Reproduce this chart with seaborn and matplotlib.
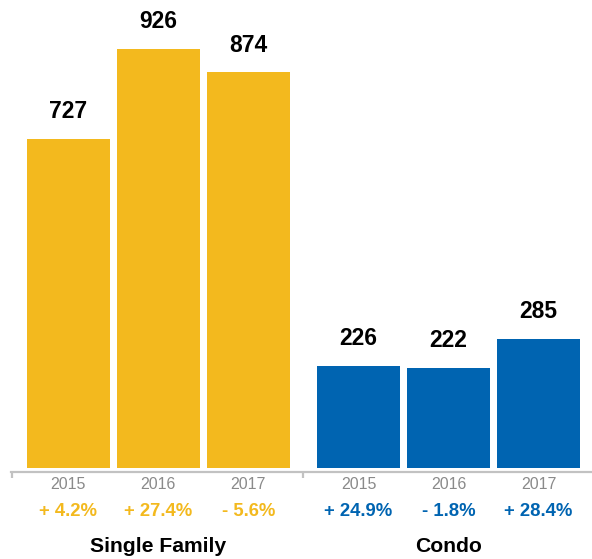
import matplotlib
matplotlib.use("Agg")
import matplotlib.pyplot as plt
import matplotlib.transforms as mtransforms
import numpy as np
import pandas as pd
import seaborn as sns

groups = ["Single Family", "Condo"]
years = ["2015", "2016", "2017"]
single_family = [727, 926, 874]
condo = [226, 222, 285]
sf_change = ["+ 4.2%", "+ 27.4%", "- 5.6%"]
condo_change = ["+ 24.9%", "- 1.8%", "+ 28.4%"]

YELLOW = "#F3B91E"
BLUE = "#0064B1"
GRAY = "#C2C2C2"

sns.set_style("white")
plt.rcParams["font.family"] = ["Liberation Sans", "DejaVu Sans"]

group_gap = 3.225
rows = []
for g, (name, vals, chg) in enumerate(zip(groups, [single_family, condo], [sf_change, condo_change])):
    for i, (yr, v, c) in enumerate(zip(years, vals, chg)):
        rows.append({"group": name, "year": yr, "value": v, "change": c,
                     "pos": g * group_gap + i})
df = pd.DataFrame(rows)

W, H = 592, 559
fig = plt.figure(figsize=(W / 100, H / 100), dpi=100)
base = 468.3
ax = fig.add_axes([11 / W, (H - base) / H, 581 / W, base / H])

sns.barplot(data=df, x="pos", y="value", hue="group", native_scale=True,
            palette={"Single Family": YELLOW, "Condo": BLUE}, width=0.925,
            linewidth=0, saturation=1, legend=False, ax=ax)

ax.set_xlim(-0.637, 5.819)
ax.set_ylim(0, 1034)
ax.set_xlabel("")
ax.set_ylabel("")
ax.set_yticks([])
for s in ["left", "right", "top"]:
    ax.spines[s].set_visible(False)
ax.spines["bottom"].set_position(("outward", 2.6))
ax.spines["bottom"].set_color(GRAY)
ax.spines["bottom"].set_linewidth(1.6)
ax.set_xticks([-0.637 + 0.01, group_gap / 2 + 1])
ax.set_xticklabels(["", ""])
ax.tick_params(axis="x", bottom=True, direction="out", length=4.5, width=1.6,
               color=GRAY, pad=0)

# value labels above bars
for _, r in df.iterrows():
    ax.annotate(str(r["value"]), (r["pos"], r["value"]), xytext=(0, 15),
                textcoords="offset points", ha="center", va="baseline",
                fontsize=16.5, fontweight="bold", color="black")

blend = mtransforms.blended_transform_factory(ax.transData, fig.transFigure)
for _, r in df.iterrows():
    col = YELLOW if r["group"] == "Single Family" else BLUE
    ax.text(r["pos"], 1 - 489.3 / H, r["year"], transform=blend, ha="center",
            va="baseline", fontsize=11.5, color="#8A8A8A")
    ax.text(r["pos"], 1 - 516 / H, r["change"], transform=blend, ha="center",
            va="baseline", fontsize=13.3, fontweight="bold", color=col)

for g, name in enumerate(groups):
    ax.text(g * group_gap + 1, 1 - 551.5 / H, name, transform=blend, ha="center",
            va="baseline", fontsize=15.2, fontweight="bold", color="black")

fig.savefig("out.png", dpi=100)
